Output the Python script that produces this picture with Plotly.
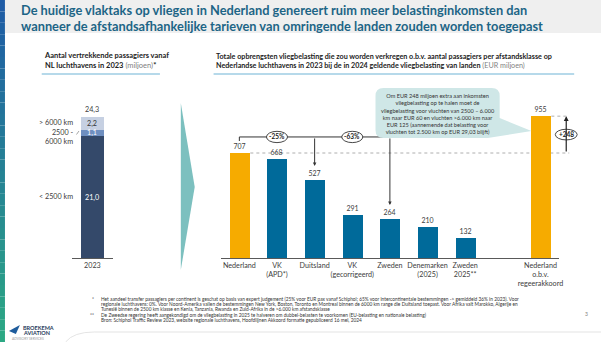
import plotly.graph_objects as go

W, H = 605, 342


def X(px):
    return px / W


def Y(py):
    return 1 - py / H


# ---------------- data ----------------
left_year = ["2023"]
left_classes = ["&lt; 2500 km", "2500 -<br>6000 km", "&gt; 6000 km"]
left_values = [21.0, 1.1, 2.2]

countries = ["Nederland", "VK<br>(APD*)", "Duitsland", "VK<br>(gecorrigeerd)", "Zweden",
             "Denemarken<br>(2025)", "Zweden<br>2025**", "Nederland<br>o.b.v.<br>regeerakkoord"]
revenues = [707, 668, 527, 291, 264, 210, 132, 955]

title_lines = ["De huidige vlaktaks op vliegen in Nederland genereert ruim meer belastinginkomsten dan",
               "wanneer de afstandsafhankelijke tarieven van omringende landen zouden worden toegepast"]
bubble_text = ("Om EUR 248 miljoen extra aan inkomsten<br>vliegbelasting op te halen moet de<br>"
               "vliegbelasting voor vluchten van 2500 – 6.000<br>km naar EUR 60 en vluchten &gt;6.000 km naar<br>"
               "EUR 125 (aannemende dat belasting voor<br>vluchten tot 2.500 km op EUR 29,03 blijft)")
footnotes = [
    ("*", "Het aandeel transfer passagiers per continent is geschat op basis van expert judgement (25% voor EUR pax vanaf Schiphol; 65% voor intercontinentale bestemmingen -&gt; gemiddeld 36% in 2023). Voor"),
    ("", "regionale luchthavens: 0%. Voor Noord-Amerika vallen de bestemmingen New York, Boston, Toronto en Montreal binnen de 6000 km range die Duitsland toepast. Voor Afrika valt Marokko, Algerije en"),
    ("", "Tunesië binnen de 2500 km klasse en Kenia, Tanzania, Rwanda en Zuid-Afrika in de &gt;6.000 km afstandsklasse"),
    ("**", "De Zweedse regering heeft aangekondigd om de vliegbelasting in 2025 te halveren om dubbel-belasten te voorkomen (EU-belasting en nationale belasting)"),
    ("", "Bron: Schiphol Traffic Review 2023, website regionale luchthavens, Hoofdlijnen Akkoord formatie gepubliceerd 16 mei, 2024"),
]

# ---------------- style ----------------
FONT = "Lato"
TXT = "#404040"
ORANGE = "#f6ab00"
BLUE = "#006a9a"
left_colors = ["#34496a", "#6f8fc0", "#c6d0e2"]
left_text_colors = ["white", "white", "#333333"]
bar_colors = [ORANGE] + [BLUE] * 6 + [ORANGE]

fig = go.Figure()

# left stacked bar
for cls, val, col in zip(left_classes, left_values, left_colors):
    fig.add_trace(go.Bar(x=left_year, y=[val], marker=dict(color=col, line=dict(width=0)),
                         width=0.55, xaxis="x", yaxis="y", showlegend=False, hoverinfo="skip"))

# right bars
fig.add_trace(go.Bar(x=countries, y=revenues, marker=dict(color=bar_colors, line=dict(width=0)),
                     width=0.53, text=[str(v) for v in revenues], textposition="outside",
                     textfont=dict(size=7, color=TXT, family=FONT), cliponaxis=False,
                     xaxis="x2", yaxis="y2", showlegend=False, hoverinfo="skip"))

cat_order = countries[:7] + [" "] + countries[7:]

shapes = []
annotations = []


def note(x, y, text, size, color=TXT, xref="paper", yref="paper", xanchor="center", yanchor="middle", **kw):
    d = dict(xref=xref, yref=yref, x=x, y=y, text=text, showarrow=False, xanchor=xanchor,
             yanchor=yanchor, font=dict(family=FONT, size=size, color=color))
    d.update(kw)
    annotations.append(d)


# left stripe gradient
top_c = (0x1f, 0x5c, 0xa6)
bot_c = (0x2c, 0xa8, 0x84)
n = 30
for i in range(n):
    t = i / (n - 1)
    c = tuple(int(top_c[k] + (bot_c[k] - top_c[k]) * t) for k in range(3))
    shapes.append(dict(type="rect", xref="paper", yref="paper", x0=0, x1=X(5),
                       y0=Y(H * (i + 1) / n), y1=Y(H * i / n),
                       fillcolor="rgb(%d,%d,%d)" % c, line=dict(width=0), layer="below"))
# title band
shapes.append(dict(type="rect", xref="paper", yref="paper", x0=X(5), x1=1, y0=Y(33), y1=1,
                   fillcolor="#efefef", line=dict(width=0), layer="below"))
for i, line in enumerate(title_lines):
    note(X(19), Y(10 + 16 * i), "<b>%s</b>" % line, 12.8, "#1d6586", xanchor="left")

# subtitles + underlines
note(X(42), Y(61), "<b>Aantal vertrekkende passagiers vanaf<br>NL luchthavens in 2023</b> "
     "<span style='color:#7f7f7f'>(miljoen)</span><b>*</b>", 7.5, "#222222", xanchor="left", align="left")
note(X(215), Y(61), "<b>Totale opbrengsten vliegbelasting die zou worden verkregen o.b.v. aantal passagiers per "
     "afstandsklasse op<br>Nederlandse luchthavens in 2023 bij de in 2024 geldende vliegbelasting van landen</b> "
     "<span style='color:#7f7f7f'>(EUR miljoen)</span>", 7.2, "#222222", xanchor="left", align="left")
shapes.append(dict(type="line", xref="paper", yref="paper", x0=X(42), x1=X(161), y0=Y(74), y1=Y(74),
                   line=dict(color="#6fb3d6", width=1.2)))
shapes.append(dict(type="line", xref="paper", yref="paper", x0=X(215), x1=X(578), y0=Y(74), y1=Y(74),
                   line=dict(color="#6fb3d6", width=1.2)))

# left bar labels
cum = 0
for cls, val, tc in zip(left_classes, left_values, left_text_colors):
    mid = cum + val / 2
    note(0, mid, ("%.1f" % val).replace(".", ","), 7.2, tc, xref="x", yref="y")
    note(X(75), mid, cls, 7.2, TXT, yref="y", xanchor="right", align="right",
         yshift=-4 if "<br>" in cls else 1)
    cum += val
total = sum(left_values)
note(0, total, ("%.1f" % total).replace(".", ","), 7.2, TXT, xref="x", yref="y", yanchor="bottom", yshift=1)
shapes.append(dict(type="line", xref="paper", yref="paper", x0=X(77), x1=X(79.5), y0=Y(134.5), y1=Y(131),
                   line=dict(color="#7f7f7f", width=0.7)))

# chevron
shapes.append(dict(type="path", xref="paper", yref="paper",
                   path="M %f %f L %f %f L %f %f Z" % (X(182), Y(103), X(196), Y(187), X(182), Y(270)),
                   fillcolor="#7cc0bf", line=dict(width=0)))

# brackets right chart
L = 815  # bracket level (y2 units)
base = revenues[0]
shapes.append(dict(type="line", xref="x2", yref="y2", x0=0, x1=4, y0=L, y1=L,
                   line=dict(color="#333333", width=1)))
shapes.append(dict(type="line", xref="x2", yref="y2", x0=0, x1=0, y0=L, y1=L - 27,
                   line=dict(color="#333333", width=1)))
for idx, ov in ((2, 1), (4, 3)):
    annotations.append(dict(xref="x2", yref="y2", x=idx, y=revenues[idx] + 93, axref="x2", ayref="y2",
                            ax=idx, ay=L, showarrow=True, arrowhead=2, arrowsize=0.7, arrowwidth=1,
                            arrowcolor="#333333", text=""))
    pct = round((revenues[idx] / base - 1) * 100)
    shapes.append(dict(type="circle", xref="x2", yref="y2", x0=ov - 0.28, x1=ov + 0.28, y0=L - 38, y1=L + 38,
                       fillcolor="white", line=dict(color="#333333", width=0.9)))
    note(ov, L, "<b>%d%%</b>" % pct, 6.5, "#222222", xref="x2", yref="y2")

# dotted reference lines
shapes.append(dict(type="line", xref="paper", yref="y2", x0=X(252), x1=X(573), y0=base, y1=base,
                   line=dict(color="#9a9a9a", width=0.8, dash="dot"), layer="below"))
shapes.append(dict(type="line", xref="paper", yref="y2", x0=X(555), x1=X(573), y0=revenues[-1], y1=revenues[-1],
                   line=dict(color="#9a9a9a", width=0.8, dash="dot"), layer="below"))
annotations.append(dict(xref="paper", yref="y2", x=X(570), y=revenues[-1], axref="pixel", ayref="y2",
                        ax=0, ay=base, showarrow=True, arrowhead=2, arrowsize=0.8, arrowwidth=1.2,
                        arrowcolor="#222222", text=""))
mid248 = (base + revenues[-1]) / 2
shapes.append(dict(type="circle", xref="paper", yref="y2", x0=X(559), x1=X(581), y0=mid248 - 36, y1=mid248 + 36,
                   fillcolor="white", line=dict(color="#333333", width=0.9)))
note(X(570), mid248, "<b>+%d</b>" % (revenues[-1] - base), 6.5, "#222222", yref="y2")

# speech bubble
x0, x1, y0, y1, r = 378, 503, 88, 138, 8
pts = [("M", x0 + r, y0), ("L", x1 - r, y0), ("Q", x1, y0, x1, y0 + r), ("L", x1, 118), ("L", 535, 131),
       ("L", x1 - 12, y1), ("L", x0 + r, y1), ("Q", x0, y1, x0, y1 - r), ("L", x0, y0 + r),
       ("Q", x0, y0, x0 + r, y0)]
segs = []
for p in pts:
    if p[0] == "Q":
        segs.append("Q %f %f %f %f" % (X(p[1]), Y(p[2]), X(p[3]), Y(p[4])))
    else:
        segs.append("%s %f %f" % (p[0], X(p[1]), Y(p[2])))
shapes.append(dict(type="path", xref="paper", yref="paper", path=" ".join(segs) + " Z",
                   fillcolor="#cfe7e7", line=dict(width=0)))
note(X(440.5), Y(113.5), bubble_text, 5.6, "#333333", align="center")

# footnotes
for i, (mark, line) in enumerate(footnotes):
    yy = Y(298.5 + 5.4 * i)
    if mark:
        note(X(97), yy, mark, 4.8, "#333333", xanchor="right")
    note(X(100), yy, line, 4.8, "#333333", xanchor="left")

# footer line and page number
shapes.append(dict(type="path", xref="paper", yref="paper",
                   path="M %f %f Q %f %f %f %f L %f %f" % (X(66), Y(342), X(74), Y(332), X(95), Y(332), X(605), Y(332)),
                   line=dict(color="#dddddd", width=0.8)))
note(X(590), Y(314), "3", 5, "#7f7f7f")

# logo
shapes.append(dict(type="path", xref="paper", yref="paper",
                   path="M %f %f L %f %f L %f %f Z" % (X(9), Y(331), X(20), Y(325), X(16), Y(334)),
                   fillcolor="#1f5c9c", line=dict(width=0)))
note(X(21), Y(328), "<b>BROEKEMA</b>", 5.5, "#1f3a5a", xanchor="left")
note(X(21), Y(333), "<b>AVIATION</b>", 5.5, "#1f3a5a", xanchor="left")
note(X(10), Y(338.5), "ADVISORY SERVICES", 3.3, "#9a9a9a", xanchor="left")

fig.update_layout(
    width=W, height=H, margin=dict(l=0, r=0, t=0, b=0),
    paper_bgcolor="white", plot_bgcolor="rgba(0,0,0,0)",
    barmode="stack", bargap=0, showlegend=False,
    font=dict(family=FONT, color=TXT),
    xaxis=dict(domain=[X(72), X(114)], anchor="y", type="category", range=[-0.5, 0.5],
               showline=True, linecolor="#595959", linewidth=1, ticks="", showgrid=False, tickangle=0,
               zeroline=False, tickfont=dict(size=7.2, color=TXT, family=FONT), fixedrange=True),
    yaxis=dict(domain=[Y(258), Y(100)], anchor="x", range=[0, 27.23], visible=False, fixedrange=True),
    xaxis2=dict(domain=[X(222), X(563)], anchor="y2", type="category", categoryorder="array",
                categoryarray=cat_order, range=[-0.5, 8.5], showline=True, linecolor="#595959",
                linewidth=1, ticks="", showgrid=False, zeroline=False, tickangle=0,
                tickfont=dict(size=7.2, color=TXT, family=FONT), fixedrange=True),
    yaxis2=dict(domain=[Y(258), Y(100)], anchor="x2", range=[0, 1063.9], visible=False, fixedrange=True),
    shapes=shapes, annotations=annotations,
)

fig.write_html("out.html")
